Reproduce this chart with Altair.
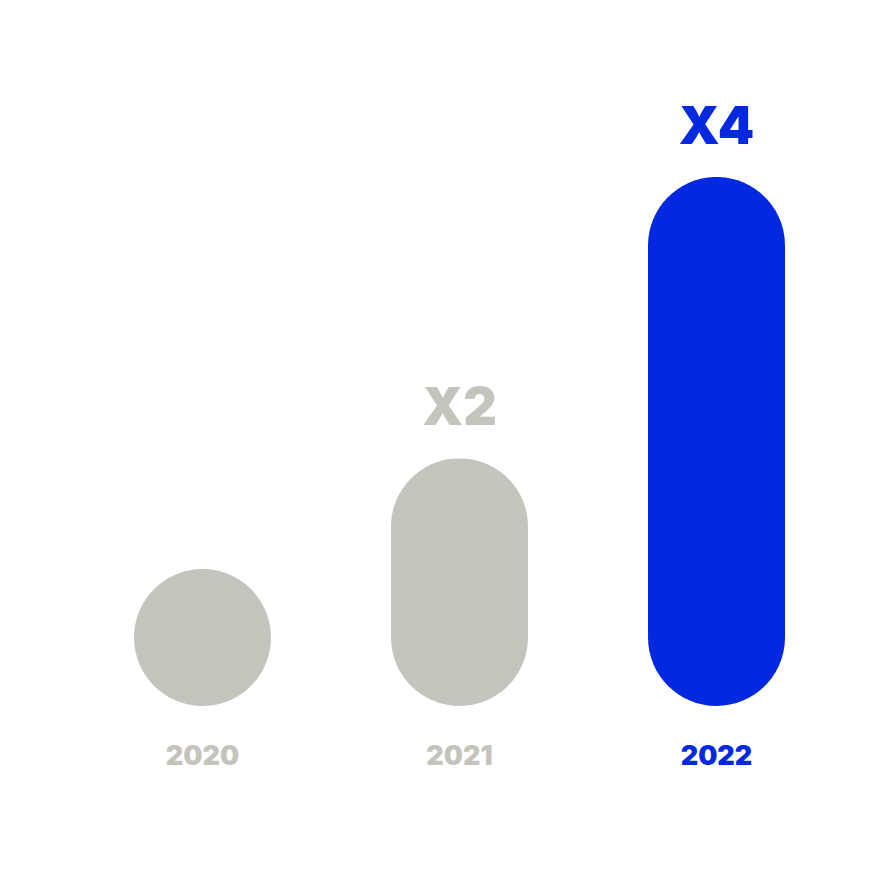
import altair as alt
import pandas as pd

years = ["2020", "2021", "2022"]
values = [22.6, 40.9, 87.3]
multipliers = ["", "X2", "X4"]
colors = ["#C4C4BD", "#C4C4BD", "#0228E0"]

df = pd.DataFrame({"year": years, "value": values, "mult": multipliers, "color": colors})

x = alt.X("year:N", sort=years, axis=None,
          scale=alt.Scale(paddingInner=0.467, paddingOuter=0.2335))
y = alt.Y("value:Q", axis=None, scale=alt.Scale(domain=[0, 100], nice=False, zero=True))
col = alt.Color("color:N", scale=None)

base = alt.Chart(df)

bars = base.mark_bar(cornerRadius=68.5).encode(x=x, y=y, color=col)

mult = base.mark_text(font="Inter", fontWeight=900, fontSize=52, baseline="alphabetic",
                      align="center", dy=-33).encode(x=x, y=y, text="mult:N", color=col)

yrs = base.mark_text(font="Inter", fontWeight=900, fontSize=27, baseline="alphabetic",
                     align="center", dy=59).encode(x=x, y=alt.datum(0), text="year:N", color=col)

chart = alt.layer(bars, mult, yrs).properties(
    width=771, height=606,
    background="white",
    autosize=alt.AutoSizeParams(type="none"),
    padding={"left": 66, "top": 92, "right": 0, "bottom": 100},
).configure_view(stroke=None, clip=False)

chart.save("out.html", embed_options={"renderer": "svg", "actions": False})
